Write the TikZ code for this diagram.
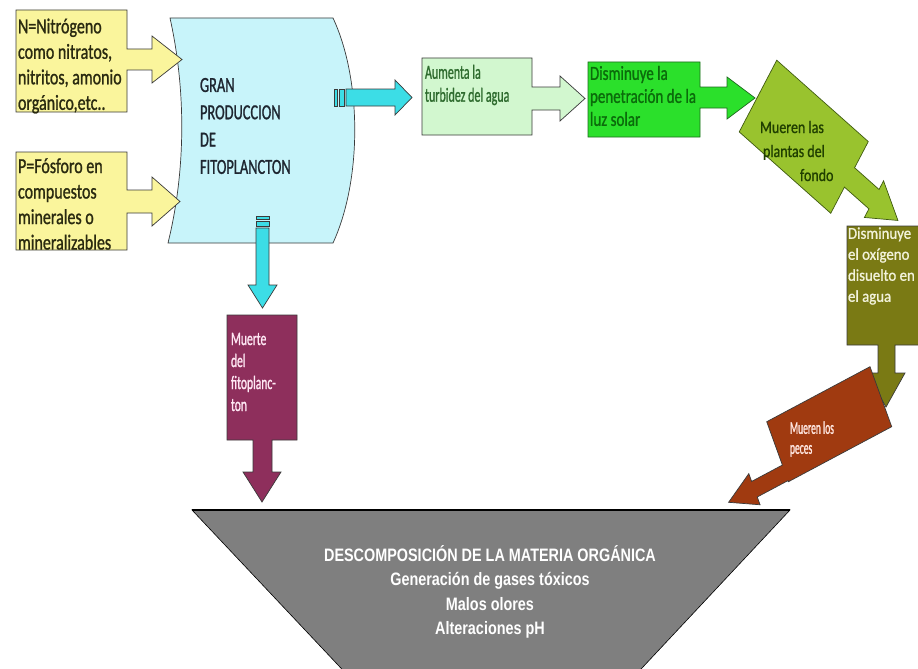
\documentclass[tikz,border=0pt]{standalone}
\usepackage{fontspec}
\setmainfont{Carlito}
% condensed cuts of the box fonts
\newfontfamily\fYel[FakeStretch=0.745,FakeBold=1]{Carlito}
\newfontfamily\fCyl[FakeStretch=0.67,FakeBold=1]{Carlito}
\newfontfamily\fTur[FakeStretch=0.6,FakeBold=1]{Carlito}
\newfontfamily\fPen[FakeStretch=0.75,FakeBold=1]{Carlito}
\newfontfamily\fPla[FakeStretch=0.8,FakeBold=1]{Carlito}
\newfontfamily\fOxi[FakeStretch=0.9,FakeBold=1]{Carlito}
\newfontfamily\fMue[FakeStretch=0.61,FakeBold=1]{Carlito}
\newfontfamily\fPec[FakeStretch=0.53,FakeBold=1]{Carlito}
\newfontfamily\fDes[FakeStretch=0.8]{Liberation Sans Bold}

\definecolor{yelfill}{HTML}{FAF59C}
\definecolor{yeltext}{HTML}{2A2A10}
\definecolor{cylfill}{HTML}{C8F4FA}
\definecolor{cyltext}{HTML}{1E2630}
\definecolor{cyanarr}{HTML}{3CDDE6}
\definecolor{turfill}{HTML}{D2F7CF}
\definecolor{turtext}{HTML}{2E6B2E}
\definecolor{penfill}{HTML}{2BE02B}
\definecolor{pentext}{HTML}{0B6B0B}
\definecolor{penline}{HTML}{1E6A1E}
\definecolor{plafill}{HTML}{99C32E}
\definecolor{platext}{HTML}{203F00}
\definecolor{plaline}{HTML}{3F5A10}
\definecolor{oxifill}{HTML}{7A7A14}
\definecolor{oxitext}{HTML}{F2F2DA}
\definecolor{pecfill}{HTML}{A03A10}
\definecolor{pectext}{HTML}{FFE6E0}
\definecolor{mueflll}{HTML}{8E2F5C}
\definecolor{muetext}{HTML}{FFE8F4}
\definecolor{desfill}{HTML}{7F7F7F}
\definecolor{edge}{HTML}{3A3A3A}

\begin{document}
\begin{tikzpicture}[x=1pt,y=-1pt,
  shapeline/.style={line width=0.7pt,line join=miter,draw=edge},
  txt/.style={inner sep=0pt,outer sep=0pt,align=left,anchor=west}]
\clip (0,0) rectangle (918,669);
\fill[white] (0,0) rectangle (918,669);

% phytoplankton tank
\path[shapeline,fill=cylfill] (170,18) -- (333,18)
  .. controls (362,80) and (362,180) .. (333,243) -- (168,243)
  .. controls (186,170) and (186,90) .. (170,18) -- cycle;
\node[txt,text=cyltext,font={\fCyl\fontsize{21.5}{27.3}\selectfont}] (gran) at (200,126)
  {GRAN\\PRODUCCION\\DE\\FITOPLANCTON};

% nutrient inputs
\path[shapeline,fill=yelfill] (16,10) -- (127,10) -- (127,49) -- (152,49) -- (152,36)
  -- (182,59.5) -- (152,83) -- (152,70) -- (127,70) -- (127,112) -- (16,112) -- cycle;
\node[txt,text=yeltext,font={\fYel\fontsize{21.5}{25.5}\selectfont}] (nitro) at (18,66)
  {N=Nitrógeno\\como nitratos,\\nitritos, amonio\\orgánico,etc..};
\path[shapeline,fill=yelfill] (16,152) -- (127,152) -- (127,190) -- (152,190) -- (152,177)
  -- (180,201.5) -- (152,226) -- (152,213) -- (127,213) -- (127,250) -- (16,250) -- cycle;
\node[txt,text=yeltext,font={\fYel\fontsize{21.5}{25.5}\selectfont}] (fosf) at (18,204)
  {P=Fósforo en\\compuestos\\minerales o\\mineralizables};

% striped arrow to the right
\path[shapeline,fill=cyanarr] (334,89) rectangle (337,106);
\path[shapeline,fill=cyanarr] (339,89) rectangle (344,106);
\path[shapeline,fill=cyanarr] (346,89) -- (395,89) -- (395,80) -- (412,97.5)
  -- (395,115) -- (395,106) -- (346,106) -- cycle;

% striped arrow downwards
\path[shapeline,fill=cyanarr] (256,216.5) rectangle (269,219.5);
\path[shapeline,fill=cyanarr] (256,221.5) rectangle (269,226);
\path[shapeline,fill=cyanarr] (256,228) -- (269,228) -- (269,285) -- (277,285)
  -- (262.5,308) -- (248,285) -- (256,285) -- cycle;

% turbidity
\path[shapeline,fill=turfill] (422,58) -- (532,58) -- (532,87) -- (560,87) -- (560,76)
  -- (585,98.5) -- (560,121) -- (560,110) -- (532,110) -- (532,135) -- (422,135) -- cycle;
\node[txt,text=turtext,font={\fTur\fontsize{20}{23}\selectfont}] (turb) at (425,85)
  {Aumenta la\\turbidez del agua};

% light penetration
\path[shapeline,draw=penline,fill=penfill] (588,62) -- (700,62) -- (700,87) -- (727,87)
  -- (727,77) -- (755,98) -- (727,119) -- (727,108) -- (700,108) -- (700,137) -- (588,137) -- cycle;
\node[txt,text=pentext,font={\fPen\fontsize{20}{23}\selectfont}] (luz) at (590,96)
  {Disminuye la\\penetración de la\\luz solar};

% bottom plants
\begin{scope}[shift={(803.75,136.75)},yscale=1.303,rotate=-34.3]
\path[shapeline,draw=plaline,fill=plafill] (-55.4,-33.3) -- (55.4,-33.3) -- (55.4,-9)
  -- (85,-9) -- (85,-17) -- (114,0) -- (85,17) -- (85,9) -- (55.4,9) -- (55.4,33.3)
  -- (-55.4,33.3) -- cycle;
\end{scope}
\node[txt,text=platext,font={\fPla\fontsize{17.5}{24}\selectfont}] (plantas) at (760,151)
  {Mueren las\\\hspace*{3pt}plantas del\\\hspace*{40pt}fondo};

% dissolved oxygen
\path[shapeline,fill=oxifill] (847,226) -- (925,226) -- (925,345) -- (895,345) -- (895,373)
  -- (905,373) -- (886,407) -- (867,373) -- (878,373) -- (878,345) -- (847,345) -- cycle;
\node[txt,text=oxitext,font={\fOxi\fontsize{16.5}{21}\selectfont}] (oxi) at (848,266)
  {Disminuye\\el oxígeno\\disuelto en\\el agua};

% fish
\begin{scope}[shift={(829.2,424.2)},yscale=1.2135,rotate=23.7]
\path[shapeline,fill=pecfill] (56.4,-27) -- (56.4,27) -- (-56.4,27) -- (-56.4,26)
  -- (-90,26) -- (-90,33) -- (-118,18.5) -- (-90,5) -- (-90,12) -- (-56.4,12)
  -- (-56.4,-27) -- cycle;
\end{scope}
\node[txt,text=pectext,font={\fPec\fontsize{18}{20}\selectfont}] (peces) at (790,439)
  {Mueren los\\peces};

% phytoplankton death
\path[shapeline,fill=mueflll] (227,315) -- (297,315) -- (297,440) -- (272,440) -- (272,472)
  -- (281,472) -- (262,502) -- (243,472) -- (253,472) -- (253,440) -- (227,440) -- cycle;
\node[txt,text=muetext,font={\fMue\fontsize{19}{22}\selectfont}] (muerte) at (231,372)
  {Muerte\\del\\fitoplanc-\\ton};

% decomposition funnel
\path[draw=black,line width=0.6pt,fill=desfill] (192,510) -- (790,510) -- (612,700) -- (371,700) -- cycle;
\draw[black,line width=1.2pt] (192,510) -- (790,510);
\node[inner sep=0pt,align=center,text=white,font={\fDes\fontsize{18}{24.5}\selectfont}] (desc) at (490,592)
  {DESCOMPOSICIÓN DE LA MATERIA ORGÁNICA\\Generación de gases tóxicos\\Malos olores\\Alteraciones pH};
\end{tikzpicture}
\end{document}
